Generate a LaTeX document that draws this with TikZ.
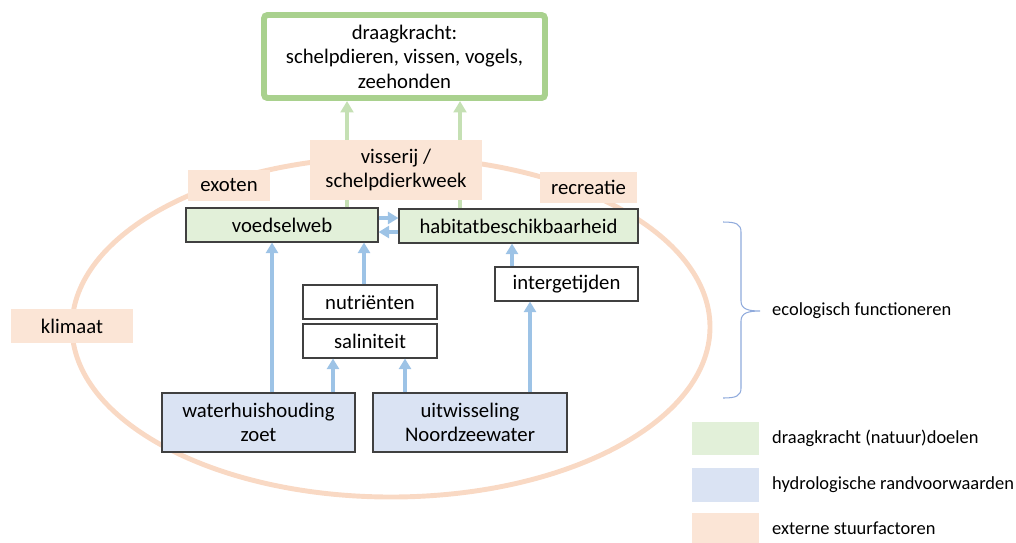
\documentclass[tikz,border=0pt]{standalone}
\usepackage{fontspec}
\setmainfont{Carlito}
\usetikzlibrary{arrows.meta}
\definecolor{ecoGreen}{HTML}{E2F0D9}
\definecolor{ecoGreenLine}{HTML}{A9D18E}
\definecolor{ecoGreenArrow}{HTML}{C5E0B4}
\definecolor{ecoBlue}{HTML}{DAE3F3}
\definecolor{ecoBlueArrow}{HTML}{9DC3E6}
\definecolor{ecoOrange}{HTML}{FBE5D6}
\definecolor{ecoOrangeLine}{HTML}{F9D9C4}
\definecolor{ecoBrace}{HTML}{8FAADC}
\tikzset{
  sz/.style 2 args  = {minimum width=#1*0.02cm, minimum height=#2*0.02cm, inner sep=0pt},
  boxtxt/.style     = {font=\fontsize{11.8}{14}\selectfont, align=center},
  legtxt/.style     = {font=\fontsize{10.5}{12.6}\selectfont, anchor=west},
  goalbox/.style    = {boxtxt, draw=ecoGreenLine, line width=3.4pt, rounded corners=2pt, fill=white},
  greenbox/.style   = {boxtxt, draw=black!75, line width=0.6pt, fill=ecoGreen},
  bluebox/.style    = {boxtxt, draw=black!75, line width=0.6pt, fill=ecoBlue},
  whitebox/.style   = {boxtxt, draw=black!75, line width=0.6pt, fill=white},
  extbox/.style     = {boxtxt, fill=ecoOrange},
  hydroflow/.style  = {-{Triangle[width=6.8pt, length=6pt]}, line width=2.4pt, ecoBlueArrow},
  goalflow/.style   = {-{Triangle[width=7.2pt, length=6.5pt]}, line width=2.4pt, ecoGreenArrow},
  ring/.style       = {ecoOrangeLine, line width=2.8pt},
}

\begin{document}
\begin{tikzpicture}[x=0.02cm,y=-0.02cm]
  \useasboundingbox (0,0) rectangle (1016,542);

  % buitenring externe factoren
  \draw[ring] (391,327) ellipse [x radius=319, y radius=170];

  % doel bovenaan
  \node[goalbox, sz={281}{83}] (goal) at (404.5,56.5)
    {draagkracht:\\schelpdieren, vissen, vogels,\\zeehonden};

  % ecologisch functioneren
  \node[greenbox, sz={192}{34}] (voedsel) at (282,225) {voedselweb};
  \node[greenbox, sz={239}{34}] (habitat) at (518.5,226) {habitatbeschikbaarheid};
  \node[whitebox, sz={143}{34}] (inter) at (566.5,284) {intergetijden};
  \node[whitebox, sz={134}{34}] (nutri) at (370,302) {nutriënten};
  \node[whitebox, sz={134}{34}] (salin) at (370,341) {saliniteit};

  \draw[goalflow] (347,0 |- voedsel.north) -- (347,0 |- goal.south);
  \draw[goalflow] (460,0 |- habitat.north) -- (460,0 |- goal.south);

  % externe stuurfactoren
  \node[extbox, sz={172}{60}] (visserij) at (396,170) {visserij /\\schelpdierkweek};
  \node[extbox, sz={82}{31}] (exoten) at (229,185.5) {exoten};
  \node[extbox, sz={97}{31}] (recreatie) at (588.5,187.5) {recreatie};
  \node[extbox, sz={122}{34}] (klimaat) at (72,326) {klimaat};

  % hydrologische randvoorwaarden
  \node[bluebox, sz={193}{59}] (zoet) at (258.5,422.5) {waterhuishouding\\zoet};
  \node[bluebox, sz={194}{59}] (noordzee) at (470,422.5) {uitwisseling\\Noordzeewater};

  \draw[hydroflow] (272,0 |- zoet.north) -- (272,0 |- voedsel.south);
  \draw[hydroflow] (333,0 |- zoet.north) -- (333,0 |- salin.south);
  \draw[hydroflow] (405,0 |- noordzee.north) -- (405,0 |- salin.south);
  \draw[hydroflow] (530,0 |- noordzee.north) -- (530,0 |- inter.south);
  \draw[hydroflow] (364,0 |- nutri.north) -- (364,0 |- voedsel.south);
  \draw[hydroflow] (512,0 |- inter.north) -- (512,0 |- habitat.south);
  \draw[hydroflow] (voedsel.east |- 0,218) -- (habitat.west |- 0,218);
  \draw[hydroflow] (habitat.west |- 0,232) -- (voedsel.east |- 0,232);

  % accolade
  \coordinate (tip) at (760,311);
  \draw[ecoBrace, line width=0.6pt] (723,222) .. controls (736,222) and (741,224) .. (741,232)
    -- (741,301) .. controls (741,309) and (748,311) .. (tip)
    .. controls (748,311) and (741,313) .. (741,321)
    -- (741,388) .. controls (741,396) and (736,398) .. (723,398);
  \node[legtxt] (eco) at (766,311) {ecologisch functioneren};

  % legenda
  \node[fill=ecoGreen, sz={67}{33}] (legG) at (725.5,438.5) {};
  \node[fill=ecoBlue, sz={67}{34}] (legB) at (725.5,485) {};
  \node[fill=ecoOrange, sz={67}{30}] (legO) at (725.5,528) {};
  \node[legtxt] at (766,438.5) {draagkracht (natuur)doelen};
  \node[legtxt] at (766,485) {hydrologische randvoorwaarden};
  \node[legtxt] at (766,528) {externe stuurfactoren};
\end{tikzpicture}
\end{document}
